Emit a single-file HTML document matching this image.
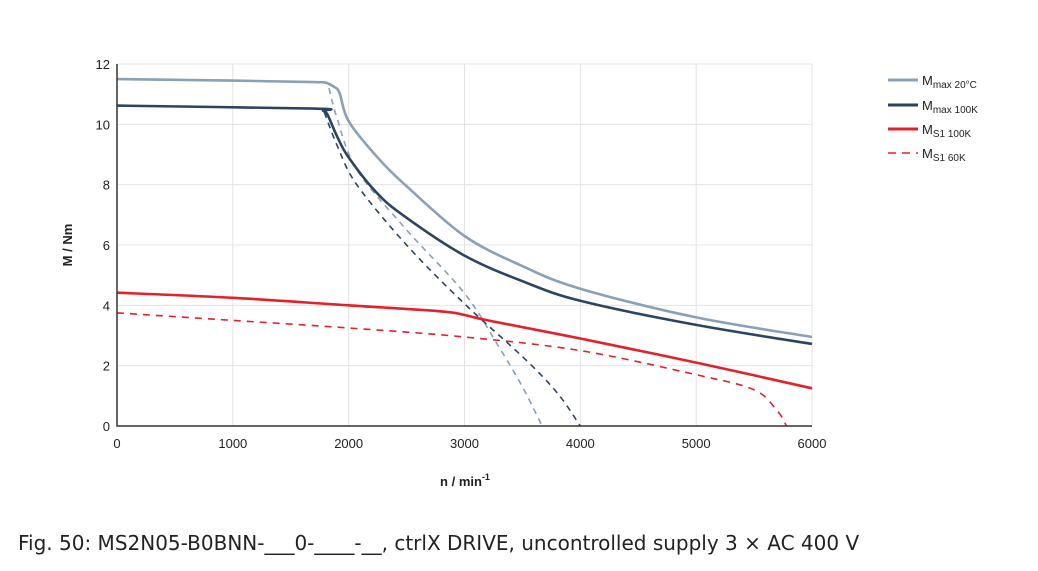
<!DOCTYPE html>
<html><head><meta charset="utf-8"><style>
body{margin:0;background:#fff;width:1038px;height:566px;overflow:hidden;font-family:"Liberation Sans",sans-serif}
svg text{font-family:"Liberation Sans",sans-serif}
</style></head><body>
<svg id="chart" width="1038" height="566" xmlns="http://www.w3.org/2000/svg">
<g id="grid"></g><g id="series"></g><g id="axes"></g>
<g font-size="13" fill="#222">
 <line x1="888" y1="80" x2="918" y2="80" stroke="#8aa0b4" stroke-width="3"/>
 <text x="922" y="85">M<tspan font-size="10" dy="3">max 20°C</tspan></text>
 <line x1="888" y1="105" x2="918" y2="105" stroke="#2d4460" stroke-width="3"/>
 <text x="922" y="110">M<tspan font-size="10" dy="3">max 100K</tspan></text>
 <line x1="888" y1="129" x2="918" y2="129" stroke="#e3212b" stroke-width="3"/>
 <text x="922" y="134">M<tspan font-size="10" dy="3">S1 100K</tspan></text>
 <line x1="888" y1="153" x2="918" y2="153" stroke="#e3212b" stroke-width="1.5" stroke-dasharray="8,6"/>
 <text x="922" y="158">M<tspan font-size="10" dy="3">S1 60K</tspan></text>
</g>
<text x="72" y="245" transform="rotate(-90 72 245)" text-anchor="middle" font-size="13" font-weight="bold" fill="#222">M / Nm</text>
<text x="465" y="486" text-anchor="middle" font-size="13" font-weight="bold" fill="#222">n / min<tspan font-size="9" dy="-6">-1</tspan></text>
<text x="18" y="550" font-size="20" fill="#222" style="font-family:'DejaVu Sans',sans-serif">Fig. 50: MS2N05-B0BNN-___0-____-__, ctrlX DRIVE, uncontrolled supply 3 × AC 400 V</text>
</svg>
<script>
const xTicks=[0,1000,2000,3000,4000,5000,6000];
const yTicks=[0,2,4,6,8,10,12];
const mmax20N=[0,1000,1700,1800,1870,1920,2000,2250,2500,3000,3500,4000,5000,6000];
const mmax20M=[11.5,11.45,11.4,11.38,11.25,11.05,10.1,8.9,7.95,6.3,5.3,4.55,3.6,2.95];
const mmax100N=[0,1700,1780,1820,1900,2000,2250,2500,3000,3500,4000,5000,6000];
const mmax100M=[10.62,10.52,10.45,10.3,9.6,8.9,7.7,6.9,5.65,4.8,4.15,3.35,2.72];
const lim20N=[1830,1900,2070,2500,3000,3300,3500,3670];
const lim20M=[11.2,10.2,8.5,6.5,4.4,2.6,1.3,0];
const lim100N=[1790,1900,2070,2500,3000,3500,3800,4000];
const lim100M=[10.4,9.3,8.0,6.0,4.05,2.3,1.1,0];
const ms1100N=[0,1000,2000,2800,3000,3200,4000,5000,6000];
const ms1100M=[4.42,4.25,4.0,3.8,3.68,3.5,2.9,2.1,1.25];
const ms160N=[0,1000,2000,3000,4000,5000,5500,5700,5780];
const ms160M=[3.75,3.5,3.25,2.95,2.5,1.7,1.2,0.5,0];
const NS="http://www.w3.org/2000/svg";
const X=n=>117+n*(812-117)/6000;
const Y=m=>426-m*(426-64)/12;
function mk(t,a,p){const e=document.createElementNS(NS,t);for(const k in a)e.setAttribute(k,a[k]);p.appendChild(e);return e;}
const grid=document.getElementById('grid'),axes=document.getElementById('axes'),ser=document.getElementById('series');
xTicks.forEach(v=>{
 if(v>0){const l=mk('line',{x1:X(v),x2:X(v),y1:Y(12),y2:Y(0),stroke:'#e3e3e3','stroke-width':1},grid);
 
 }
 const t=mk('text',{x:X(v),y:448,'text-anchor':'middle','font-size':13,fill:'#222'},axes);t.textContent=v;
 
 
});
yTicks.forEach(v=>{
 if(v>0){const l=mk('line',{x1:X(0),x2:X(6000),y1:Y(v),y2:Y(v),stroke:'#e3e3e3','stroke-width':1},grid);
 
 }
 const t=mk('text',{x:110,y:Y(v)+5,'text-anchor':'end','font-size':13,fill:'#222'},axes);t.textContent=v;
 
 
});
const ax=mk('path',{d:`M${X(0)},${Y(12)}V${Y(0)}H${X(6000)}`,fill:'none',stroke:'#333','stroke-width':1.5},axes);


function line(N,M,color,w,dash,name){
 const P=N.map((n,i)=>[X(n),Y(M[i])]);
 let d='M'+P[0][0].toFixed(1)+','+P[0][1].toFixed(1);
 for(let i=0;i<P.length-1;i++){
  const p0=P[Math.max(i-1,0)],p1=P[i],p2=P[i+1],p3=P[Math.min(i+2,P.length-1)];
  const c1=[p1[0]+(p2[0]-p0[0])/6,p1[1]+(p2[1]-p0[1])/6];
  const c2=[p2[0]-(p3[0]-p1[0])/6,p2[1]-(p3[1]-p1[1])/6];
  d+='C'+c1.map(v=>v.toFixed(1))+' '+c2.map(v=>v.toFixed(1))+' '+p2.map(v=>v.toFixed(1));
 }
 const p=mk('path',{d:d,fill:'none',stroke:color,'stroke-width':w,'stroke-linejoin':'round'},ser);
 if(dash)p.setAttribute('stroke-dasharray',dash);
 
 
}
line(lim20N,lim20M,'#8aa0b4',1.6,'6,5','mmax-20c-voltage-limit');
line(lim100N,lim100M,'#2d4460',1.6,'6,5','mmax-100k-voltage-limit');
line(ms160N,ms160M,'#e3212b',1.6,'7,6','ms1-60k-line');
line(ms1100N,ms1100M,'#e3212b',2.6,null,'ms1-100k-line');
line(mmax20N,mmax20M,'#8aa0b4',2.6,null,'mmax-20c-line');
line(mmax100N,mmax100M,'#2d4460',2.6,null,'mmax-100k-line');
</script>
</body></html>
